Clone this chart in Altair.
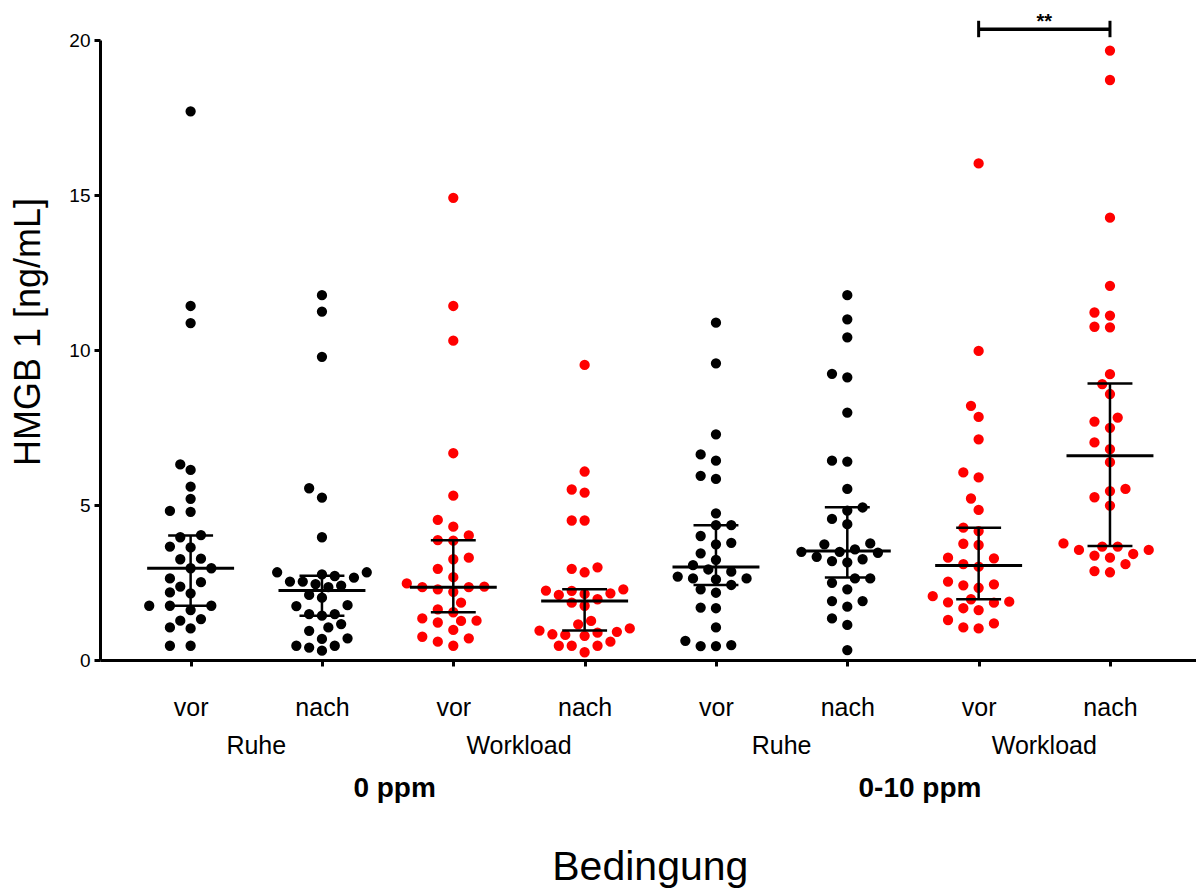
import altair as alt
import pandas as pd

# Condition labels (x axis, three levels)
zeitpunkt = ["vor", "nach", "vor", "nach", "vor", "nach", "vor", "nach"]
belastung = ["Ruhe", "Ruhe", "Workload", "Workload", "Ruhe", "Ruhe", "Workload", "Workload"]
konzentration = ["0 ppm", "0-10 ppm"]

# HMGB 1 [ng/mL] per subject and condition
ruhe_vor_0 = [17.70, 11.42, 10.87, 6.31, 6.13, 5.59, 5.20, 4.81, 4.78, 3.96, 4.03, 3.66, 3.63, 3.27,
              3.25, 2.96, 2.96, 2.51, 2.63, 2.15, 2.18, 2.37, 1.75, 1.75, 1.75, 1.61, 1.27, 1.32,
              1.02, 1.05, 0.46, 0.46]
ruhe_nach_0 = [11.77, 11.24, 9.78, 5.54, 5.24, 3.96, 2.83, 2.71, 2.76, 2.83, 2.66, 2.35, 2.40, 2.53,
               2.53, 2.45, 2.01, 2.10, 1.77, 1.74, 1.48, 1.43, 1.48, 1.16, 1.05, 0.94, 0.68, 0.70,
               0.40, 0.46, 0.46, 0.30]
work_vor_0 = [14.91, 11.42, 10.30, 6.67, 5.30, 4.52, 4.30, 3.87, 4.02, 3.85, 3.30, 3.25, 2.94, 2.67,
              2.35, 2.35, 2.37, 2.47, 2.20, 2.28, 1.85, 1.54, 1.63, 1.27, 1.26, 1.34, 1.21, 0.97,
              0.75, 0.59, 0.70, 0.46]
work_nach_0 = [9.52, 6.08, 5.40, 5.50, 4.50, 4.50, 2.94, 2.83, 2.99, 2.24, 2.28, 2.23, 2.15, 2.13,
               2.10, 1.96, 1.85, 1.75, 1.15, 1.26, 1.02, 0.88, 0.95, 0.81, 0.78, 0.83, 0.91, 0.46,
               0.59, 0.46, 0.46, 0.25]
ruhe_vor_10 = [10.88, 9.57, 7.28, 6.63, 6.43, 5.94, 5.84, 4.73, 4.35, 4.35, 4.00, 3.73, 3.78, 3.44,
               3.23, 3.06, 2.92, 2.85, 2.63, 2.63, 2.69, 2.42, 2.60, 2.28, 2.17, 1.69, 1.67, 1.05,
               0.45, 0.62, 0.45, 0.48]
ruhe_nach_10 = [11.77, 10.99, 10.41, 9.23, 9.12, 7.98, 6.40, 6.43, 5.52, 4.82, 4.92, 4.55, 4.38, 3.73,
                3.76, 3.49, 3.49, 3.57, 3.46, 3.15, 3.25, 3.33, 3.19, 2.63, 2.63, 2.49, 2.28, 1.90,
                1.72, 1.90, 1.34, 1.13, 0.32]
work_vor_10 = [16.02, 9.97, 8.20, 7.84, 7.12, 6.05, 5.89, 5.21, 4.84, 4.27, 4.16, 3.71, 3.75, 3.28,
               3.30, 3.09, 3.01, 2.44, 2.53, 2.41, 2.33, 2.06, 1.96, 1.85, 1.88, 1.86, 1.61, 1.67,
               1.29, 1.05, 1.18, 1.02]
work_nach_10 = [19.66, 18.71, 14.27, 12.07, 11.11, 11.21, 10.73, 10.75, 9.22, 8.90, 8.58, 7.82, 7.69,
                7.49, 7.02, 6.80, 6.38, 5.45, 5.25, 5.52, 4.98, 3.55, 3.66, 3.66, 3.76, 3.55, 3.30,
                3.37, 3.42, 3.09, 2.83, 2.87]

# Median and interquartile range per condition
median = [2.96, 2.24, 2.35, 1.90, 3.00, 3.52, 3.05, 6.59]
q1 = [1.75, 1.43, 1.54, 0.95, 2.42, 2.66, 1.96, 3.68]
q3 = [4.02, 2.72, 3.86, 2.28, 4.35, 4.93, 4.27, 8.92]

# Significance bracket: (from condition, to condition, label)
signif = [(6, 7, "**")]

series = [ruhe_vor_0, ruhe_nach_0, work_vor_0, work_nach_0,
          ruhe_vor_10, ruhe_nach_10, work_vor_10, work_nach_10]

# --- layout constants -------------------------------------------------------
W, H = 1096, 620
X_DOMAIN = [-0.69, 7.655]
Y_DOMAIN = [0, 20]
PX_X = W / (X_DOMAIN[1] - X_DOMAIN[0])
PX_Y = H / (Y_DOMAIN[1] - Y_DOMAIN[0])
SWARM_STEP = [20.7, 12.8, 15.5, 12.9, 15.3, 15.3, 15.3, 15.5]  # column spacing in px
DOT_GAP = 11.5
FONT = "Liberation Sans"


def swarm_offsets(values, step):
    """Grid beeswarm: each dot takes the free slot nearest to the centre line."""
    cands = [0.0]
    for k in range(1, 30):
        cands += [-k * step / 2, k * step / 2]
    placed = []
    offs = [0.0] * len(values)
    for i in sorted(range(len(values)), key=lambda j: values[j]):
        y = values[i] * PX_Y
        for c in cands:
            if all((c - px) ** 2 + (y - py) ** 2 >= DOT_GAP ** 2 for px, py in placed):
                break
        placed.append((c, y))
        offs[i] = c / PX_X
    return offs


rows = []
for gi, vals in enumerate(series):
    for v, o in zip(vals, swarm_offsets(vals, SWARM_STEP[gi])):
        rows.append({"pos": gi + o, "wert": v, "belastung": belastung[gi]})
points = pd.DataFrame(rows)

summary = pd.DataFrame({
    "pos": list(range(8)),
    "median": median, "q1": q1, "q3": q3,
})
summary["m_lo"] = summary["pos"] - 0.331
summary["m_hi"] = summary["pos"] + 0.331
summary["c_lo"] = summary["pos"] - 0.171
summary["c_hi"] = summary["pos"] + 0.171

x_scale = alt.Scale(domain=X_DOMAIN, nice=False, zero=False)
y_scale = alt.Scale(domain=Y_DOMAIN, nice=False)

x_axis = alt.Axis(values=list(range(8)), labelExpr="datum.value % 2 == 0 ? 'vor' : 'nach'",
                  title=None, grid=False, domainWidth=3, domainColor="black", tickWidth=3,
                  tickColor="black", tickSize=6, labelFontSize=25, labelFont=FONT,
                  labelColor="black", labelPadding=41, labelBaseline="middle", labelFlush=False)
y_axis = alt.Axis(values=[0, 5, 10, 15, 20], title=None, grid=False, domainWidth=3,
                  domainColor="black", tickWidth=3, tickColor="black", tickSize=6,
                  labelFontSize=19, labelFont=FONT, labelColor="black", labelPadding=4)

color = alt.Color("belastung:N", scale=alt.Scale(domain=["Ruhe", "Workload"],
                                                  range=["#000000", "#ff0000"]), legend=None)

dots = alt.Chart(points).mark_circle(size=106, opacity=1).encode(
    x=alt.X("pos:Q", scale=x_scale, axis=x_axis),
    y=alt.Y("wert:Q", scale=y_scale, axis=y_axis),
    color=color,
)

base = alt.Chart(summary)
med = base.mark_rule(color="black", strokeWidth=3).encode(
    x=alt.X("m_lo:Q", scale=x_scale), x2="m_hi", y=alt.Y("median:Q", scale=y_scale))
iqr = base.mark_rule(color="black", strokeWidth=2.5).encode(
    x=alt.X("pos:Q", scale=x_scale), y=alt.Y("q1:Q", scale=y_scale), y2="q3")
cap_lo = base.mark_rule(color="black", strokeWidth=2.5).encode(
    x=alt.X("c_lo:Q", scale=x_scale), x2="c_hi", y=alt.Y("q1:Q", scale=y_scale))
cap_hi = base.mark_rule(color="black", strokeWidth=2.5).encode(
    x=alt.X("c_lo:Q", scale=x_scale), x2="c_hi", y=alt.Y("q3:Q", scale=y_scale))

# significance bracket above the plot
BR_Y, BR_LO, BR_HI, STAR_Y = 20.35, 20.09, 20.62, 20.38
sig = pd.DataFrame([{"a": a, "b": b, "mid": (a + b) / 2, "txt": t} for a, b, t in signif])
sig_base = alt.Chart(sig)
br_h = sig_base.mark_rule(color="black", strokeWidth=3.5).encode(
    x=alt.X("a:Q", scale=x_scale), x2="b", y=alt.Y("y:Q", scale=y_scale)
).transform_calculate(y=str(BR_Y))
br_a = sig_base.mark_rule(color="black", strokeWidth=3).encode(
    x=alt.X("a:Q", scale=x_scale), y=alt.Y("y1:Q", scale=y_scale), y2="y2:Q"
).transform_calculate(y1=str(BR_LO), y2=str(BR_HI))
br_b = sig_base.mark_rule(color="black", strokeWidth=3).encode(
    x=alt.X("b:Q", scale=x_scale), y=alt.Y("y1:Q", scale=y_scale), y2="y2:Q"
).transform_calculate(y1=str(BR_LO), y2=str(BR_HI))
stars = sig_base.mark_text(fontSize=20, fontWeight="bold", font=FONT, baseline="alphabetic",
                           color="black").encode(
    x=alt.X("mid:Q", scale=x_scale), y=alt.Y("y:Q", scale=y_scale), text="txt:N"
).transform_calculate(y=str(STAR_Y))

# second and third level of the category axis
lvl2 = pd.DataFrame({"pos": [0.5, 2.5, 4.5, 6.5], "txt": [belastung[i] for i in (0, 2, 4, 6)]})
lvl3 = pd.DataFrame({"pos": [1.5, 5.5], "txt": konzentration})
lbl2 = alt.Chart(lvl2).mark_text(fontSize=25, font=FONT, color="black", baseline="middle").encode(
    x=alt.X("pos:Q", scale=x_scale), y=alt.value(706), text="txt:N")
lbl3 = alt.Chart(lvl3).mark_text(fontSize=28, font=FONT, fontWeight="bold", color="black",
                                 baseline="middle", dx=7).encode(
    x=alt.X("pos:Q", scale=x_scale), y=alt.value(749), text="txt:N")

x_title = alt.Chart(pd.DataFrame({"pos": [3.5], "txt": ["Bedingung"]})).mark_text(
    fontSize=41, font=FONT, color="black", baseline="middle").encode(
    x=alt.X("pos:Q", scale=x_scale), y=alt.value(828), text="txt:N")
y_title = alt.Chart(pd.DataFrame({"txt": ["HMGB 1 [ng/mL]"]})).mark_text(
    fontSize=36, font=FONT, color="black", baseline="middle", angle=270).encode(
    x=alt.value(-71), y=alt.value(292), text="txt:N")

chart = alt.layer(
    dots, iqr, cap_lo, cap_hi, med, br_h, br_a, br_b, stars, lbl2, lbl3, x_title, y_title
).properties(
    width=W, height=H,
    autosize=alt.AutoSizeParams(type="none"),
    padding={"left": 100, "top": 40, "right": 0, "bottom": 231},
    background="white",
).configure_view(stroke=None)

chart.save("out.html", embed_options={"renderer": "svg", "actions": False})
